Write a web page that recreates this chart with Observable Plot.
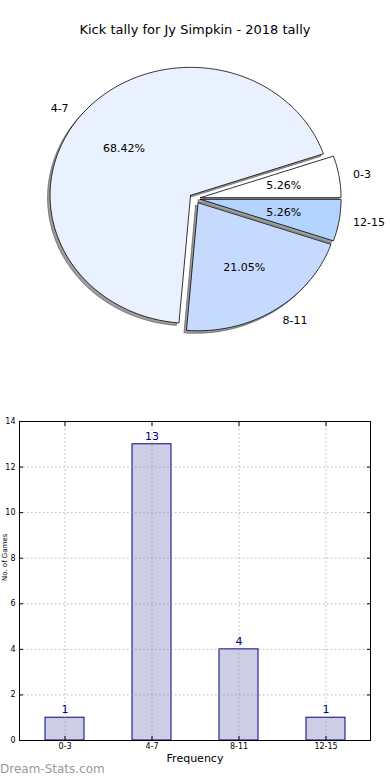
<!DOCTYPE html>
<html><head><meta charset="utf-8">
<script src="https://cdn.jsdelivr.net/npm/d3@7"></script>
<script src="https://cdn.jsdelivr.net/npm/@observablehq/plot@0.6"></script>
<style>
body{margin:0;background:#fff;font-family:"DejaVu Sans",sans-serif;}
#wrap{position:relative;width:390px;height:780px;overflow:hidden;background:#fff;}
#title{position:absolute;top:0;left:0;width:390px;height:60px;line-height:60px;text-align:center;font-size:13px;color:#000;}
#pie{position:absolute;top:60px;left:0;}
#bar{position:absolute;top:390px;left:0;}
#wm{position:absolute;left:0;top:762px;font-size:12px;color:#999;}
</style></head>
<body><div id="wrap"><div id="title"></div><div id="pie"></div><div id="bar"></div><div id="wm"></div></div>
<script>
const titleText = "Kick tally for Jy Simpkin - 2018 tally";
const categories = ["0-3", "4-7", "8-11", "12-15"];
const counts = [1, 13, 4, 1];
const sliceColors = ["#ffffff", "#eaf1fe", "#c6d9fe", "#b3d4fe"];
const yTicks = [0, 2, 4, 6, 8, 10, 12, 14];
const xLabel = "Frequency";
const yLabel = "No. of Games";
const watermark = "Dream-Stats.com";
const explode = 0.04;

document.getElementById("title").textContent = titleText;
document.getElementById("wm").textContent = watermark;

// ---- pie geometry from data ----
const total = d3.sum(counts);
const wedgePts = [], pctLabels = [], catLabels = [];
let a = 0;
categories.forEach((c, i) => {
  const frac = counts[i] / total;
  const a1 = a, a2 = a + frac * 2 * Math.PI;
  a = a2;
  const mid = (a1 + a2) / 2;
  const ox = explode * Math.cos(mid), oy = explode * Math.sin(mid);
  const n = Math.max(4, Math.ceil((a2 - a1) / (Math.PI / 180)));
  wedgePts.push({cat: c, color: sliceColors[i], x: ox, y: oy});
  for (let k = 0; k <= n; k++) {
    const t = a1 + (a2 - a1) * k / n;
    wedgePts.push({cat: c, color: sliceColors[i], x: ox + Math.cos(t), y: oy + Math.sin(t)});
  }
  wedgePts.push({cat: c, color: sliceColors[i], x: ox, y: oy});
  pctLabels.push({x: ox + 0.6 * Math.cos(mid), y: oy + 0.6 * Math.sin(mid), text: (frac * 100).toFixed(2) + "%"});
  catLabels.push({x: ox + 1.1 * Math.cos(mid), y: oy + 1.1 * Math.sin(mid), text: c, anchor: Math.cos(mid) >= 0 ? "start" : "end"});
});

const pie = Plot.plot({
  width: 390, height: 330, margin: 0,
  style: {fontFamily: "DejaVu Sans", fontSize: "11px", color: "#000", background: "transparent"},
  x: {domain: [-1, 1], range: [54, 335], axis: null},
  y: {domain: [-1, 1], range: [266, 10], axis: null},
  color: {type: "identity"},
  marks: [
    Plot.line(wedgePts, {x: "x", y: "y", z: "cat", fill: "#4d4d4d", fillOpacity: 0.55, stroke: "#4d4d4d", strokeOpacity: 0.6, strokeWidth: 1, dx: -2.5, dy: 2.5, curve: "linear"}),
    Plot.line(wedgePts, {x: "x", y: "y", z: "cat", fill: "color", stroke: "#000", strokeWidth: 0.8, curve: "linear"}),
    Plot.text(pctLabels, {x: "x", y: "y", text: "text", fontSize: 11, fill: "#000"}),
    Plot.text(catLabels.filter(d => d.anchor === "start"), {x: "x", y: "y", text: "text", fontSize: 11, textAnchor: "start", fill: "#000"}),
    Plot.text(catLabels.filter(d => d.anchor === "end"), {x: "x", y: "y", text: "text", fontSize: 11, textAnchor: "end", fill: "#000"})
  ]
});
document.getElementById("pie").appendChild(pie);

// ---- bar chart ----
const barData = categories.map((c, i) => ({cat: c, count: counts[i]}));
const bar = Plot.plot({
  width: 390, height: 390, marginTop: 31, marginBottom: 40, marginLeft: 19, marginRight: 20,
  style: {fontFamily: "DejaVu Sans", fontSize: "8px", color: "#000", background: "transparent"},
  x: {domain: categories, padding: 0},
  y: {domain: [0, 14]},
  marks: [
    Plot.barY(barData, {x: "cat", y: "count", fill: "#cdcde5", stroke: "#000080", strokeWidth: 1, insetLeft: 24, insetRight: 24}),
    Plot.gridX({stroke: "#999", strokeOpacity: 0.7, strokeDasharray: "1.5,2.5"}),
    Plot.gridY({ticks: yTicks, stroke: "#999", strokeOpacity: 0.7, strokeDasharray: "1.5,2.5"}),
    Plot.frame({stroke: "#000", strokeWidth: 1}),
    Plot.axisY({ticks: yTicks, anchor: "left", tickSize: -4, tickPadding: 8, label: null}),
    Plot.axisY({ticks: yTicks, anchor: "right", tickSize: -4, tickFormat: () => "", label: null}),
    Plot.axisX({anchor: "bottom", tickSize: -4, tickPadding: 7, label: null}),
    Plot.axisX({anchor: "top", tickSize: -4, tickFormat: () => "", label: null}),
    Plot.text(barData, {x: "cat", y: "count", text: "count", dy: -8, fill: "#000080", fontSize: 11}),
    Plot.text([xLabel], {frameAnchor: "bottom", dy: 21, text: d => d, fontSize: 11, fill: "#000"}),
    Plot.text([yLabel], {frameAnchor: "left", dx: -15, rotate: -90, text: d => d, fontSize: 7, fill: "#000"})
  ]
});
document.getElementById("bar").appendChild(bar);
</script>
</body></html>
